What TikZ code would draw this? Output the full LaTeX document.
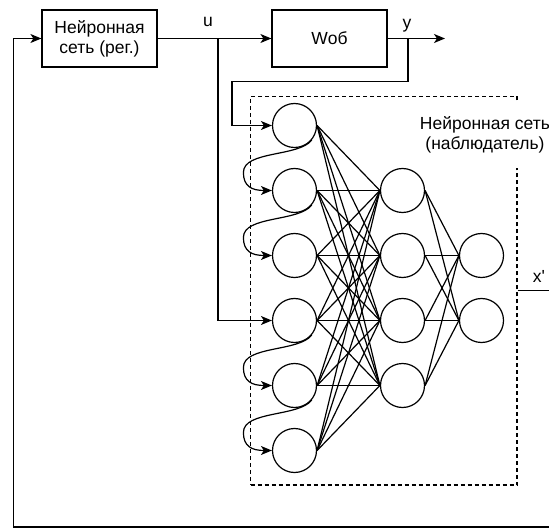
\documentclass[tikz,border=0pt]{standalone}
\usepackage{fontspec}
\setmainfont{Liberation Sans}
\usetikzlibrary{arrows.meta,calc}
\begin{document}
\begin{tikzpicture}[x=1pt,y=-1pt,
  line width=1.2pt,
  box/.style={draw, minimum width=115pt, minimum height=57pt, align=center, inner sep=0pt, font=\fontsize{17.5}{20}\selectfont},
  neuron/.style={draw, circle, minimum size=44pt, inner sep=0pt},
  lbl/.style={font=\fontsize{17.5}{20}\selectfont, inner sep=0pt},
  arr/.style={-{Stealth[length=11pt,width=9pt,inset=3pt]}},
  obsbox/.style={draw, dash pattern=on 4pt off 3pt, minimum width=266.5pt, minimum height=388.5pt, inner sep=0pt},
  wire/.style={line width=1.2pt}
  ]
\useasboundingbox (0,0) rectangle (549,529);
% blocks
\node[box] (reg) at (99.5,38.5) {Нейронная\\сеть (рег.)};
\node[box] (wob) at (329.5,38.5) {Wоб};
% observer frame
\node[obsbox] (obs) at (383.75,290.75) {};
\node[lbl, fill=white, align=center, minimum height=66pt] (obslbl) at (485,135) {Нейронная сеть\\(наблюдатель)};
% neurons
\foreach \i/\y in {1/125.5,2/190.5,3/255.5,4/320.5,5/385.5,6/450.5}
  \node[neuron] (in\i) at (294.5,\y) {};
\foreach \j/\y in {1/190.5,2/255.5,3/320.5,4/385.5}
  \node[neuron] (h\j) at (402.5,\y) {};
\foreach \k/\y in {1/255.5,2/320.5}
  \node[neuron] (o\k) at (481.5,\y) {};
% layer connections
\foreach \i in {1,...,6}
  \foreach \j in {1,...,4}
    \draw[wire] (in\i.east) -- (h\j.west);
\foreach \j in {1,...,4}
  \foreach \k in {1,2}
    \draw[wire] (h\j.east) -- (o\k.west);
% delay curves
\foreach \a/\b in {1/2,2/3,4/5,5/6}
  \draw[wire, arr] (in\a.-40) .. controls +(-13,17) and +(0,-22) .. ($(in\b.west)+(-28.5,-18)$) .. controls +(0,14) and +(-20,0) .. (in\b.west);
% signal lines
\coordinate (yend) at (445,38.5);
\coordinate (ubr) at (218,38.5);
\coordinate (ybr) at (408,38.5);
\coordinate (fbin) at (549,527);
\coordinate (xend) at (549,290.75);
\draw[wire, arr] (reg.east) -- (wob.west);
\draw[wire, arr] (wob.east) -- (yend);
\draw[wire, arr] (ubr) |- (in4.west);
\draw[wire, arr] (ybr) |- (232,81.5) |- (in1.west);
\draw[wire, arr] (fbin) -- (13.5,527) |- (reg.west);
\draw[wire] (obs.east) -- (xend);
% labels
\node[lbl] (ulbl) at (208,22) {u};
\node[lbl] (ylbl) at (407,26) {y};
\node[lbl] (xlbl) at (539,276) {x\textquotesingle};
\end{tikzpicture}
\end{document}
